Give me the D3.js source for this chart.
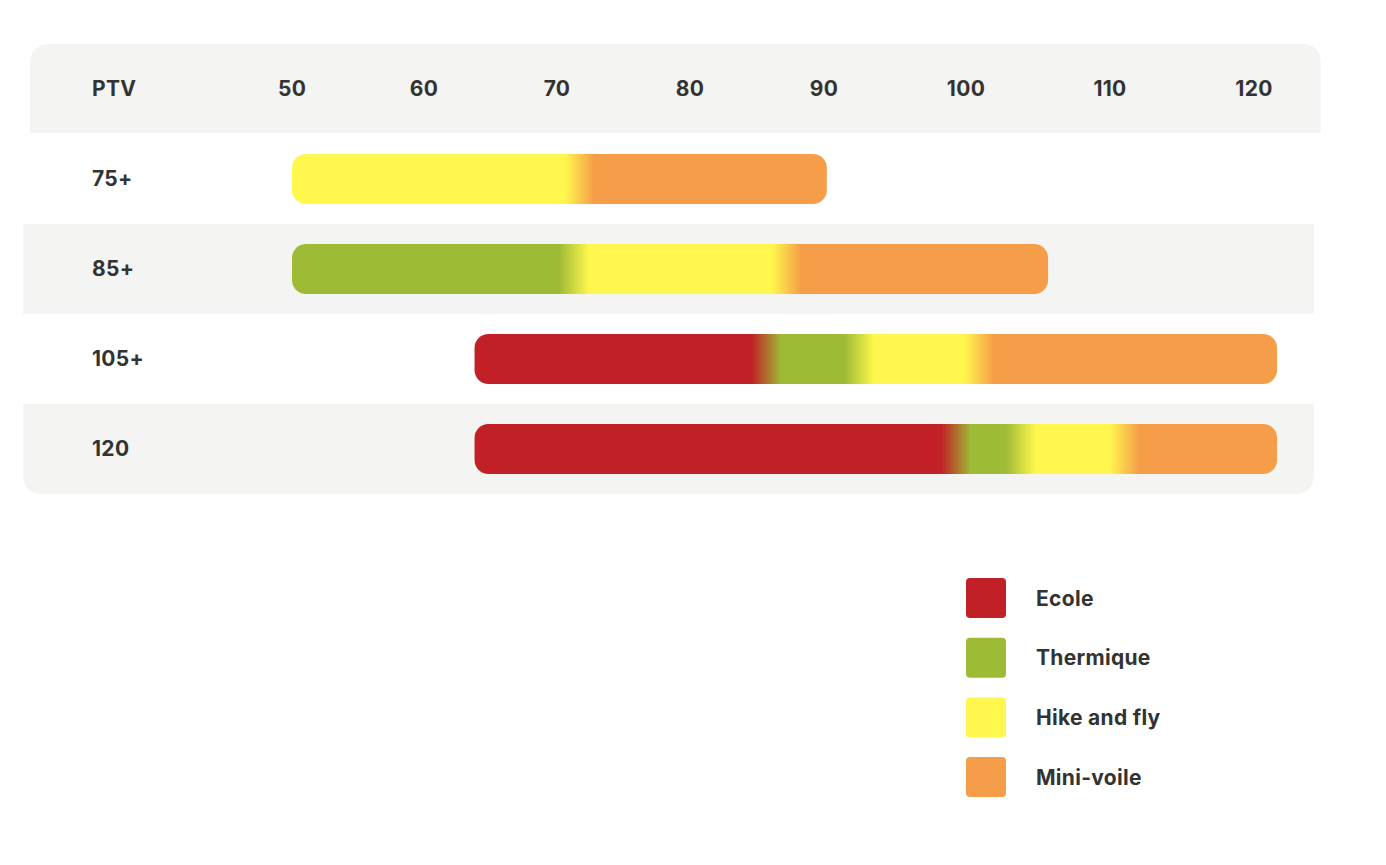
<!DOCTYPE html>
<html>
<head>
<meta charset="utf-8">
<script src="https://cdn.jsdelivr.net/npm/d3@7"></script>
<style>
  body { margin: 0; background: #fff; }
  svg text { font-family: "Inter", "Open Sans", sans-serif; font-weight: 700; fill: #333; letter-spacing: 0.3px; }
</style>
</head>
<body>
<div id="chart"></div>
<script>
// categories and colours
const categories = ["Ecole", "Thermique", "Hike and fly", "Mini-voile"];
const catColors = ["#C12026", "#9EBB35", "#FFF74D", "#F59D49"];

// PTV ticks shown in the header
const ptvTicks = [50, 60, 70, 80, 90, 100, 110, 120];

// rows (wing size classes)
const rows = ["75+", "85+", "105+", "120"];

// segments of each row: [category, from, to] in kg
const row75 = [["Hike and fly", 50, 71.7], ["Mini-voile", 71.7, 90.2]];
const row85 = [["Thermique", 50, 71.3], ["Hike and fly", 71.3, 87.2], ["Mini-voile", 87.2, 105.7]];
const row105 = [["Ecole", 63.8, 85.7], ["Thermique", 85.7, 92.5], ["Hike and fly", 92.5, 100.9], ["Mini-voile", 100.9, 121.6]];
const row120 = [["Ecole", 63.8, 99.3], ["Thermique", 99.3, 103.8], ["Hike and fly", 103.8, 111], ["Mini-voile", 111, 121.6]];
const rowSegments = [row75, row85, row105, row120];

const svg = d3.select("#chart").append("svg")
  .attr("width", 1386)
  .attr("height", 865);

const color = d3.scaleOrdinal().domain(categories).range(catColors);

// header columns are laid out like a table: wider cells on the right
const x = d3.scaleLinear()
  .domain(ptvTicks)
  .range([292, 424, 557, 690, 824, 966, 1110, 1254]);

const y = d3.scaleBand()
  .domain(rows)
  .range([134, 494]);

const bg = "#F4F4F2";

// header band with rounded top corners
const hx0 = 30, hx1 = 1321, hy0 = 44, hy1 = 133, r = 20;
svg.append("path")
  .attr("d", `M${hx0},${hy1}V${hy0 + r}Q${hx0},${hy0} ${hx0 + r},${hy0}H${hx1 - r}Q${hx1},${hy0} ${hx1},${hy0 + r}V${hy1}Z`)
  .attr("fill", bg);

// shaded body rows
const bx0 = 23, bx1 = 1314;
rows.forEach((row, i) => {
  if (i % 2 === 0) return;
  const y0 = y(row), y1 = y(row) + y.bandwidth();
  if (i === rows.length - 1) {
    svg.append("path")
      .attr("d", `M${bx0},${y0}H${bx1}V${y1 - r}Q${bx1},${y1} ${bx1 - r},${y1}H${bx0 + r}Q${bx0},${y1} ${bx0},${y1 - r}Z`)
      .attr("fill", bg);
  } else {
    svg.append("rect")
      .attr("x", bx0).attr("y", y0)
      .attr("width", bx1 - bx0).attr("height", y1 - y0)
      .attr("fill", bg);
  }
});

// header texts
svg.append("text")
  .attr("x", 92).attr("y", 88)
  .attr("dy", "0.36em")
  .attr("font-size", 21)
  .text("PTV");

svg.selectAll(".tick-label")
  .data(ptvTicks)
  .enter()
  .append("text")
  .attr("class", "tick-label")
  .attr("x", d => x(d))
  .attr("y", 88)
  .attr("dy", "0.36em")
  .attr("text-anchor", "middle")
  .attr("font-size", 21)
  .text(d => d);

// row labels
svg.selectAll(".row-label")
  .data(rows)
  .enter()
  .append("text")
  .attr("class", "row-label")
  .attr("x", 92)
  .attr("y", d => y(d) + y.bandwidth() / 2 - 1)
  .attr("dy", "0.36em")
  .attr("font-size", 21)
  .text(d => d);

// bars with blended gradients between the segments
const defs = svg.append("defs");
const barH = 50, blend = 15;

rowSegments.forEach((segs, i) => {
  const x0 = x(segs[0][1]);
  const x1 = x(segs[segs.length - 1][2]);
  const w = x1 - x0;
  const grad = defs.append("linearGradient")
    .attr("id", "grad" + i)
    .attr("gradientUnits", "userSpaceOnUse")
    .attr("x1", x0).attr("x2", x1)
    .attr("y1", 0).attr("y2", 0);

  grad.append("stop").attr("offset", 0).attr("stop-color", color(segs[0][0]));
  for (let k = 1; k < segs.length; k++) {
    const b = x(segs[k][1]);
    grad.append("stop").attr("offset", (b - blend - x0) / w).attr("stop-color", color(segs[k - 1][0]));
    grad.append("stop").attr("offset", (b + blend - x0) / w).attr("stop-color", color(segs[k][0]));
  }
  grad.append("stop").attr("offset", 1).attr("stop-color", color(segs[segs.length - 1][0]));

  svg.append("rect")
    .attr("x", x0)
    .attr("y", y(rows[i]) + y.bandwidth() / 2 - barH / 2)
    .attr("width", w)
    .attr("height", barH)
    .attr("rx", 14)
    .attr("fill", `url(#grad${i})`);
});

// legend
const legend = svg.append("g").attr("transform", "translate(966,578)");
const item = legend.selectAll("g")
  .data(categories)
  .enter()
  .append("g")
  .attr("transform", (d, i) => `translate(0,${i * 59.7})`);

item.append("rect")
  .attr("width", 40).attr("height", 40)
  .attr("rx", 4)
  .attr("fill", d => color(d));

item.append("text")
  .attr("x", 70).attr("y", 20)
  .attr("dy", "0.36em")
  .attr("font-size", 21)
  .text(d => d);
</script>
</body>
</html>
